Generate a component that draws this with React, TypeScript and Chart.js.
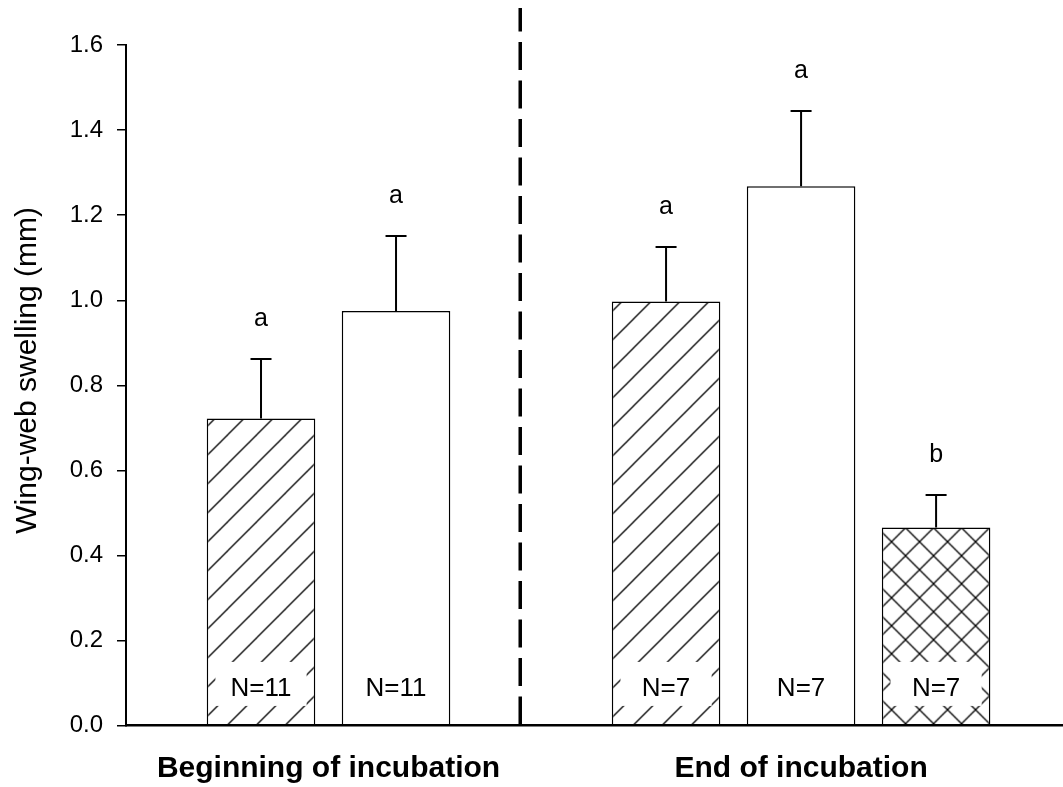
import React, { useEffect, useRef } from 'react';
import { Chart, registerables } from 'chart.js';

Chart.register(...registerables);

// ---- data ----
const groupLabels = ['Beginning of incubation', 'End of incubation'];
const groupCenters = [1.5, 5];
const barPositions = [1, 2, 4, 5, 6];
const meanValues = [0.722, 0.975, 0.997, 1.268, 0.466];
const seValues = [0.14, 0.176, 0.128, 0.177, 0.076];
const letterLabels = ['a', 'a', 'a', 'a', 'b'];
const sampleLabels = ['N=11', 'N=11', 'N=7', 'N=7', 'N=7'];
const yTickValues = [0, 0.2, 0.4, 0.6, 0.8, 1.0, 1.2, 1.4, 1.6];
const yTickLabels = ['0.0', '0.2', '0.4', '0.6', '0.8', '1.0', '1.2', '1.4', '1.6'];
const dividerPosition = 2.92;
const sampleLabelValue = 0.07;
const yTitle = 'Wing-web swelling (mm)';

// ---- styles ----
const barFills = ['diagonal', 'plain', 'diagonal', 'plain', 'cross'];
const FONT = '"Liberation Sans", Arial, Helvetica, sans-serif';

function makeFill(kind: string): CanvasPattern | string {
  if (kind === 'plain') return '#ffffff';
  const s = kind === 'cross' ? 28 : 29;
  const c = document.createElement('canvas');
  c.width = s;
  c.height = s;
  const g = c.getContext('2d')!;
  g.fillStyle = '#ffffff';
  g.fillRect(0, 0, s, s);
  g.strokeStyle = '#000000';
  g.lineWidth = 1.3;
  g.beginPath();
  g.moveTo(-2, s + 2); g.lineTo(s + 2, -2);
  g.moveTo(-2, 2); g.lineTo(2, -2);
  g.moveTo(s - 2, s + 2); g.lineTo(s + 2, s - 2);
  if (kind === 'cross') {
    g.moveTo(-2, -2); g.lineTo(s + 2, s + 2);
    g.moveTo(-2, s - 2); g.lineTo(2, s + 2);
    g.moveTo(s - 2, -2); g.lineTo(s + 2, 2);
  }
  g.stroke();
  const p = g.createPattern(c, 'repeat');
  if (!p) return '#ffffff';
  try {
    const t = kind === 'cross' ? [9.5, -4.3] : [24.5, 0];
    p.setTransform(new DOMMatrix([1, 0, 0, 1, t[0], t[1]]));
  } catch (e) {
    /* ignore */
  }
  return p;
}

const annotPlugin = {
  id: 'annot',
  afterDatasetsDraw(chart: any) {
    const ctx: CanvasRenderingContext2D = chart.ctx;
    const meta = chart.getDatasetMeta(0);
    const ys = chart.scales.y;
    const xs = chart.scales.x;
    const area = chart.chartArea;
    ctx.save();
    meta.data.forEach((bar: any, i: number) => {
      const props = bar.getProps(['x', 'width'], true);
      const bx = props.x;
      // sample size label with white box
      const base = ys.getPixelForValue(sampleLabelValue);
      const bw = props.width * 0.84;
      ctx.fillStyle = '#ffffff';
      ctx.fillRect(bx - bw / 2, base - 34, bw, 44);
      ctx.fillStyle = '#000000';
      ctx.font = `26px ${FONT}`;
      ctx.textAlign = 'center';
      ctx.textBaseline = 'alphabetic';
      ctx.fillText(sampleLabels[i], bx, base);
      // error bar (upper only)
      const yTop = ys.getPixelForValue(meanValues[i] + seValues[i]);
      const yBar = ys.getPixelForValue(meanValues[i]);
      ctx.strokeStyle = '#000000';
      ctx.lineWidth = 2;
      ctx.beginPath();
      ctx.moveTo(bx, yBar);
      ctx.lineTo(bx, yTop);
      ctx.moveTo(bx - 10.5, yTop);
      ctx.lineTo(bx + 10.5, yTop);
      ctx.stroke();
      // significance letter
      ctx.font = `25px ${FONT}`;
      ctx.fillText(letterLabels[i], bx, yTop - 33);
    });
    // dashed divider
    const dx = xs.getPixelForValue(dividerPosition);
    ctx.strokeStyle = '#000000';
    ctx.lineWidth = 3.5;
    ctx.setLineDash([28, 10.5]);
    ctx.lineDashOffset = 4.5;
    ctx.beginPath();
    ctx.moveTo(dx, 8);
    ctx.lineTo(dx, area.bottom);
    ctx.stroke();
    ctx.setLineDash([]);
    // y axis title
    ctx.translate(28, (area.top + area.bottom) / 2 - 15);
    ctx.rotate(-Math.PI / 2);
    ctx.font = `30px ${FONT}`;
    ctx.textAlign = 'center';
    ctx.textBaseline = 'middle';
    ctx.fillStyle = '#000000';
    ctx.fillText(yTitle, 0, 0);
    ctx.restore();
  },
};

export default function App() {
  const ref = useRef<HTMLCanvasElement | null>(null);
  useEffect(() => {
    document.body.style.margin = '0';
    if (!ref.current) return;
    const chart = new Chart(ref.current, {
      type: 'bar',
      data: {
        datasets: [
          {
            data: meanValues.map((v, i) => ({ x: barPositions[i], y: v })),
            backgroundColor: barFills.map(makeFill) as any,
            borderColor: '#000000',
            borderWidth: 1.5,
            borderSkipped: 'start',
            categoryPercentage: 1,
            barPercentage: 0.804,
          } as any,
        ],
      },
      options: {
        animation: false,
        responsive: true,
        maintainAspectRatio: false,
        layout: { padding: { top: 45, right: 0, left: 0, bottom: 0 } },
        plugins: { legend: { display: false }, tooltip: { enabled: false } },
        scales: {
          x: {
            type: 'linear',
            min: 0,
            max: 6.94,
            offset: false,
            afterBuildTicks: (axis: any) => {
              axis.ticks = groupCenters.map((v) => ({ value: v }));
            },
            ticks: {
              callback: (_v: any, i: number) => groupLabels[i],
              font: { family: FONT, size: 30, weight: 'bold' },
              color: '#000000',
              padding: 17,
              maxRotation: 0,
              autoSkip: false,
            },
            grid: { display: false, offset: false },
            border: { display: true, color: '#000000', width: 2.5, z: 1 },
            afterFit: (s: any) => {
              s.height = 61.3;
            },
          },
          y: {
            min: 0,
            max: 1.6,
            afterBuildTicks: (axis: any) => {
              axis.ticks = yTickValues.map((v) => ({ value: v }));
            },
            ticks: {
              callback: (_v: any, i: number) => yTickLabels[i],
              font: { family: FONT, size: 24 },
              color: '#000000',
              padding: 14,
            },
            grid: {
              drawOnChartArea: false,
              drawTicks: true,
              tickLength: 9,
              color: '#000000',
              lineWidth: 1.5,
            },
            border: { display: true, color: '#000000', width: 2 },
            afterFit: (s: any) => {
              s.width = 126;
            },
          },
        } as any,
      },
      plugins: [annotPlugin],
    });
    return () => chart.destroy();
  }, []);
  return (
    <div style={{ width: 1063, height: 787, position: 'relative', background: '#ffffff' }}>
      <canvas ref={ref} />
    </div>
  );
}
